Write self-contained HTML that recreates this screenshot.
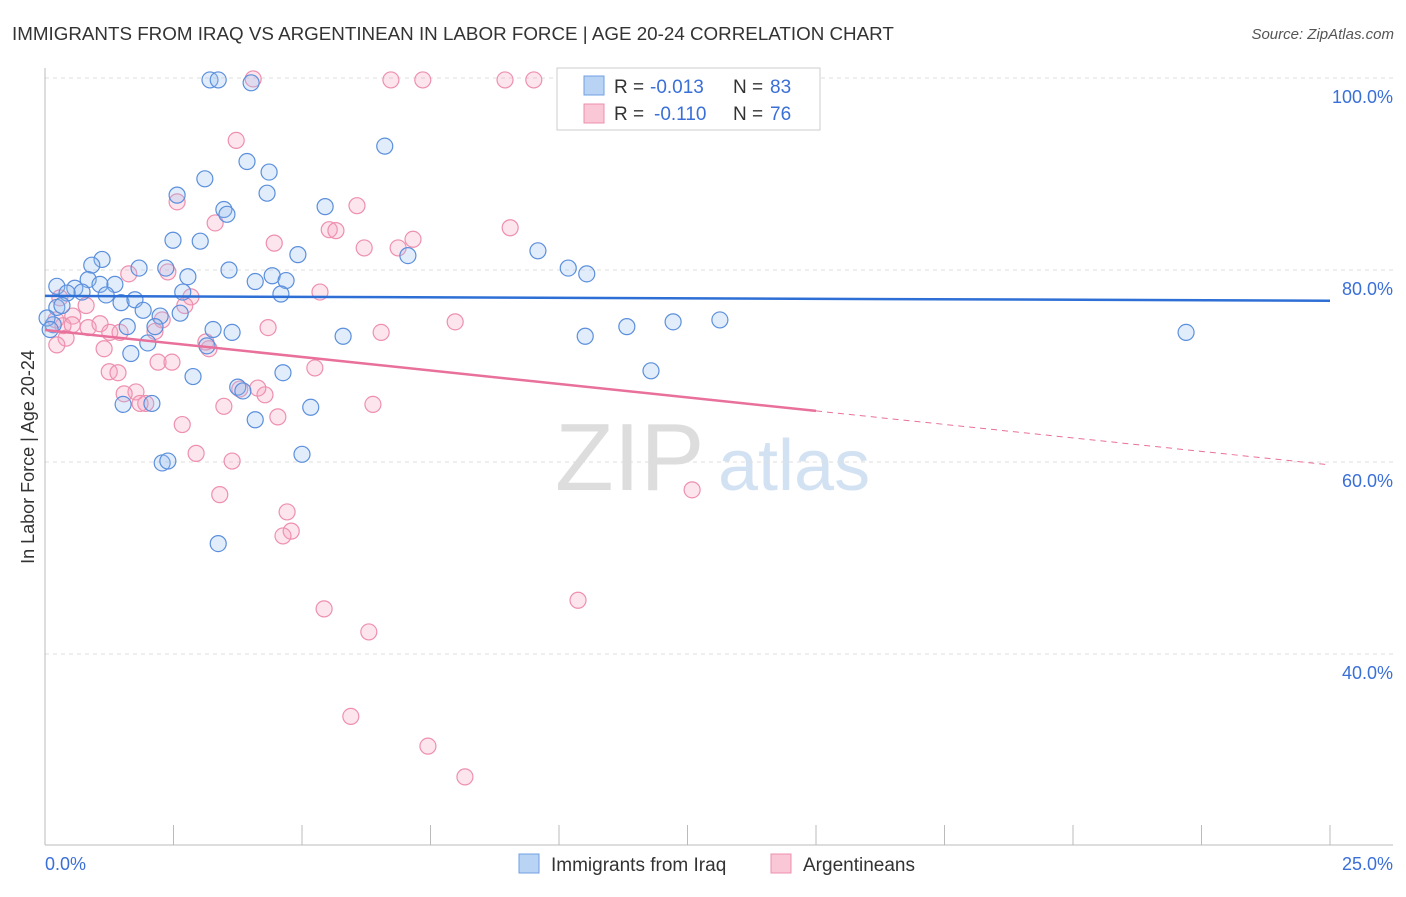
<!DOCTYPE html>
<html><head><meta charset="utf-8">
<style>
body{margin:0;background:#fff;font-family:"Liberation Sans",sans-serif;}
svg text{font-family:"Liberation Sans",sans-serif;}
</style></head>
<body>
<svg id="chart" width="1406" height="892" xmlns="http://www.w3.org/2000/svg">
<text x="12" y="40" font-size="18.8" fill="#333">IMMIGRANTS FROM IRAQ VS ARGENTINEAN IN LABOR FORCE | AGE 20-24 CORRELATION CHART</text>
<text x="1394" y="39" font-size="15" fill="#555" font-style="italic" text-anchor="end">Source: ZipAtlas.com</text>
<text x="555" y="490" font-size="96" fill="#ddd" font-family="Liberation Serif">ZIP</text>
<text x="718" y="490" font-size="72" fill="#d3e2f3">atlas</text>
<g id="grid"></g>
<g id="axes"></g>
<g id="pts"></g>
<g id="trends"></g>
<text transform="translate(34,457) rotate(-90)" font-size="18" fill="#333" text-anchor="middle">In Labor Force | Age 20-24</text>
<g>
<rect x="557" y="68" width="263" height="62" fill="#fff" stroke="#ccc"/>
<rect x="584" y="76" width="20" height="19" fill="#b9d3f5" stroke="#6f9fe0"/>
<rect x="584" y="104" width="20" height="19" fill="#f9c7d6" stroke="#ee8fae"/>
<text x="614" y="93" font-size="19" fill="#333">R =</text>
<text x="650" y="93" font-size="19" fill="#3a6fd8">-0.013</text>
<text x="733" y="93" font-size="19" fill="#333">N =</text>
<text x="770" y="93" font-size="19" fill="#3a6fd8">83</text>
<text x="614" y="120" font-size="19" fill="#333">R =</text>
<text x="654" y="120" font-size="19" fill="#3a6fd8">-0.110</text>
<text x="733" y="120" font-size="19" fill="#333">N =</text>
<text x="770" y="120" font-size="19" fill="#3a6fd8">76</text>
</g>
<g>
<rect x="519" y="854" width="20" height="19" fill="#b9d3f5" stroke="#6f9fe0"/>
<text x="551" y="871" font-size="19" fill="#333">Immigrants from Iraq</text>
<rect x="771" y="854" width="20" height="19" fill="#f9c7d6" stroke="#ee8fae"/>
<text x="803" y="871" font-size="19" fill="#333">Argentineans</text>
</g>
</svg>
<script>
const yTicks=[40,60,80,100];
const yTickLabels=["40.0%","60.0%","80.0%","100.0%"];
const xTickCount=10;
const blueX=[3.21,3.37,4.01,6.61,3.93,4.36,3.11,4.32,2.57,3.48,3.54,5.45,2.49,3.02,4.92,7.06,9.59,10.18,10.54,1.11,0.91,1.83,2.35,4.42,4.69,3.58,2.78,4.09,0.23,0.84,1.07,1.36,0.58,0.72,1.19,0.43,2.68,4.59,1.48,1.75,0.23,0.33,2.24,2.63,1.91,3.27,3.64,1.60,2.14,5.80,10.51,11.32,12.22,13.13,22.2,3.15,2.00,1.67,4.63,2.88,3.75,3.85,1.52,2.08,5.17,4.09,5.0,2.28,2.39,3.37,11.79,0.16,0.04,0.10];
const blueY=[99.8,99.8,99.5,92.9,91.3,90.2,89.5,88.0,87.8,86.3,85.8,86.6,83.1,83.0,81.6,81.5,82.0,80.2,79.6,81.1,80.5,80.2,80.2,79.4,78.9,80.0,79.3,78.8,78.3,79.0,78.5,78.5,78.1,77.7,77.4,77.6,77.7,77.5,76.6,76.9,76.1,76.3,75.2,75.5,75.8,73.8,73.5,74.1,74.1,73.1,73.1,74.1,74.6,74.8,73.5,72.1,72.4,71.3,69.3,68.9,67.8,67.4,66.0,66.1,65.7,64.4,60.8,59.9,60.1,51.5,69.5,74.3,75.0,73.8];
const pinkX=[4.05,6.73,7.35,8.95,9.51,3.72,2.57,6.07,3.31,5.53,5.66,9.05,4.46,6.21,6.87,7.16,2.39,1.63,5.35,2.84,0.29,0.54,0.84,1.07,0.21,0.35,1.26,1.46,0.41,0.23,1.15,2.28,2.72,2.14,3.19,4.34,6.54,7.98,3.13,2.20,2.47,5.25,1.25,1.42,1.77,1.54,1.96,1.85,4.28,4.14,3.48,6.38,2.67,4.53,2.94,3.64,3.40,4.71,4.79,4.63,12.59,10.37,5.43,6.30,5.95,7.45,8.17,0.80,0.53,3.79];
const pinkY=[99.9,99.8,99.8,99.8,99.8,93.5,87.1,86.7,84.9,84.2,84.1,84.4,82.8,82.3,82.3,83.2,79.8,79.6,77.7,77.2,77.1,75.2,74.0,74.4,74.8,74.2,73.5,73.5,72.9,72.2,71.8,74.8,76.3,73.6,71.8,74.0,73.5,74.6,72.5,70.4,70.4,69.8,69.4,69.3,67.3,67.1,66.1,66.1,67.0,67.7,65.8,66.0,63.9,64.7,60.9,60.1,56.6,54.8,52.8,52.3,57.1,45.6,44.7,42.3,33.5,30.4,27.2,76.3,74.3,67.6];
const blueTrend=[77.3,76.8];
const pinkTrend=[73.75,59.7];
const pinkSolidEnd=15;

const X=v=>45+v/25*1285;
const Y=v=>78+(100-v)*9.6;
const NS="http://www.w3.org/2000/svg";
function mk(parent,tag,attrs){const e=document.createElementNS(NS,tag);for(const k in attrs)e.setAttribute(k,attrs[k]);document.getElementById(parent).appendChild(e);return e;}

yTicks.forEach((t,i)=>{
  const g=mk('grid','line',{x1:45,x2:1393,y1:Y(t),y2:Y(t),stroke:'#ddd','stroke-dasharray':'4,4'});
  
  
  const l=mk('grid','text',{x:1393,y:Y(t)+25,'font-size':18,fill:'#3a6fd8','text-anchor':'end'});
  l.textContent=yTickLabels[i];
  
  
});
let a=mk('axes','line',{x1:45,x2:45,y1:68,y2:845,stroke:'#bbb'});


a=mk('axes','line',{x1:45,x2:1393,y1:845,y2:845,stroke:'#bbb'});


for(let i=0;i<=xTickCount;i++){
  const x=X(i*25/xTickCount);
  const t=mk('axes','line',{x1:x,x2:x,y1:825,y2:845,stroke:'#bbb'});
  
  
}
let xl=mk('axes','text',{x:45,y:870,'font-size':18,fill:'#3a6fd8'});xl.textContent='0.0%';


xl=mk('axes','text',{x:1393,y:870,'font-size':18,fill:'#3a6fd8','text-anchor':'end'});xl.textContent='25.0%';



pinkX.forEach((v,i)=>{
  const c=mk('pts','circle',{cx:X(v),cy:Y(pinkY[i]),r:8,fill:'rgba(244,160,190,0.28)',stroke:'#ee8fae','stroke-width':1.2});
  
  
});
blueX.forEach((v,i)=>{
  const c=mk('pts','circle',{cx:X(v),cy:Y(blueY[i]),r:8,fill:'rgba(150,190,240,0.28)',stroke:'#5b8fdc','stroke-width':1.2});
  
  
});
let tl=mk('trends','line',{x1:X(0),y1:Y(blueTrend[0]),x2:X(25),y2:Y(blueTrend[1]),stroke:'#2e6fd6','stroke-width':2.5});


const pAt=x=>pinkTrend[0]+(pinkTrend[1]-pinkTrend[0])*x/25;
tl=mk('trends','line',{x1:X(0),y1:Y(pAt(0)),x2:X(pinkSolidEnd),y2:Y(pAt(pinkSolidEnd)),stroke:'#e8709a','stroke-width':2.5});


tl=mk('trends','line',{x1:X(pinkSolidEnd),y1:Y(pAt(pinkSolidEnd)),x2:X(25),y2:Y(pAt(25)),stroke:'#e8709a','stroke-width':1,'stroke-dasharray':'6,5'});


</script>
</body></html>
